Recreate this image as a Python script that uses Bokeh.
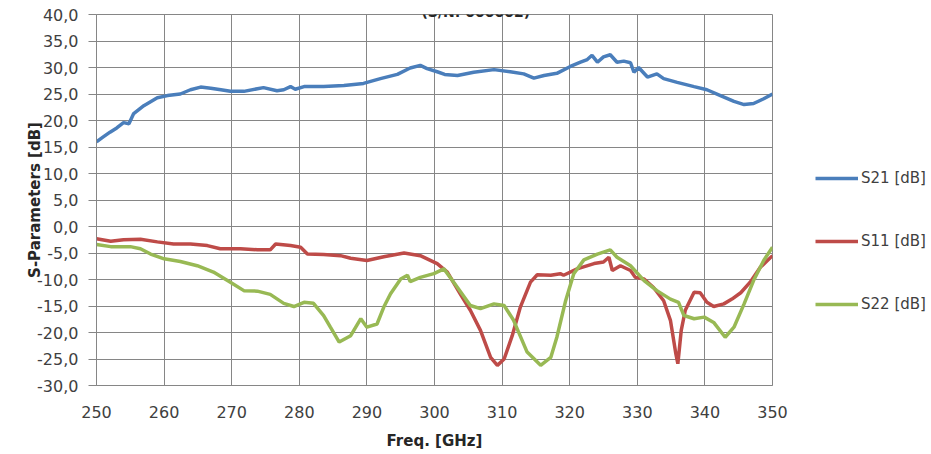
from bokeh.plotting import figure
from bokeh.layouts import row
from bokeh.models import (FixedTicker, CustomJSTickFormatter, Legend, LegendItem,
                          Label, Range1d)
from bokeh.embed import file_html
from bokeh.resources import INLINE

# ---------------- data ----------------
title_text = "(S/N: 000002)"
x_ticks = [250, 260, 270, 280, 290, 300, 310, 320, 330, 340, 350]
y_ticks = [-30, -25, -20, -15, -10, -5, 0, 5, 10, 15, 20, 25, 30, 35, 40]

f_s21 = [250.0, 251.0, 252.0, 253.0, 254.0, 254.8, 255.5, 257.0, 259.0, 260.5,
         262.4, 263.9, 265.4, 266.9, 268.4, 269.8, 271.8, 273.8, 274.7, 276.7,
         277.7, 278.7, 279.4, 280.7, 283.6, 286.6, 289.5, 292.0, 294.5, 296.4,
         297.9, 298.9, 300.4, 301.5, 303.4, 305.8, 308.8, 311.2, 313.2, 314.7,
         316.2, 318.1, 320.1, 321.6, 322.6, 323.3, 324.1, 325.0, 326.0, 327.0,
         328.0, 329.0, 329.5, 330.2, 331.5, 332.9, 333.9, 335.9, 338.4, 340.3,
         342.3, 344.3, 345.8, 347.2, 348.7, 350.0]
s21 = [16.0, 16.9, 17.8, 18.6, 19.6, 19.4, 21.3, 22.8, 24.3, 24.7,
       25.0, 25.8, 26.3, 26.1, 25.8, 25.5, 25.5, 26.0, 26.2, 25.6,
       25.8, 26.4, 25.9, 26.4, 26.4, 26.6, 27.0, 27.9, 28.7, 29.9,
       30.4, 29.8, 29.2, 28.7, 28.5, 29.1, 29.6, 29.2, 28.8, 28.0,
       28.5, 28.9, 30.2, 31.0, 31.5, 32.3, 31.0, 32.0, 32.4, 31.0,
       31.2, 30.9, 29.1, 30.0, 28.2, 28.8, 27.9, 27.2, 26.4, 25.8,
       24.7, 23.6, 23.0, 23.2, 24.1, 25.0]

f_s11 = [250.0, 252.1, 254.0, 256.5, 259.0, 261.4, 263.9, 266.4, 268.3, 271.3,
         273.8, 275.7, 276.5, 278.7, 280.2, 281.2, 283.6, 286.1, 287.6, 290.0,
         292.5, 295.5, 297.9, 300.4, 301.9, 303.8, 305.3, 306.8, 308.3, 309.3,
         310.3, 311.5, 312.7, 314.2, 315.2, 317.2, 318.6, 319.1, 321.1, 323.6,
         325.0, 325.8, 326.3, 327.5, 329.0, 329.7, 331.0, 332.4, 333.9, 334.9,
         335.7, 336.0, 336.5, 337.1, 338.4, 339.3, 340.3, 341.3, 342.8, 344.0,
         345.3, 346.7, 348.2, 350.0]
s11 = [-2.3, -2.8, -2.5, -2.4, -2.9, -3.3, -3.3, -3.6, -4.2, -4.2,
       -4.4, -4.4, -3.3, -3.6, -3.9, -5.2, -5.3, -5.5, -6.0, -6.4,
       -5.7, -5.0, -5.5, -7.0, -8.6, -12.7, -15.8, -19.6, -24.7, -26.2,
       -25.0, -20.6, -15.2, -10.5, -9.1, -9.2, -8.9, -9.2, -8.0, -7.0,
       -6.7, -5.8, -8.3, -7.4, -8.3, -9.6, -9.9, -11.5, -14.0, -17.7,
       -24.0, -25.9, -19.6, -15.8, -12.4, -12.5, -14.3, -15.1, -14.6, -13.7,
       -12.5, -10.5, -7.7, -5.5]

f_s22 = [250.0, 252.1, 255.0, 256.5, 258.0, 260.0, 262.4, 264.9, 267.3, 269.8,
         271.8, 273.8, 275.7, 277.7, 279.2, 280.7, 282.1, 283.6, 284.6, 285.9,
         287.6, 289.1, 290.0, 291.5, 292.5, 293.5, 295.0, 296.0, 296.4, 297.9,
         299.9, 301.4, 303.4, 305.3, 306.8, 308.8, 310.3, 311.7, 313.7, 315.7,
         317.2, 318.1, 319.4, 320.6, 322.1, 324.1, 326.0, 327.0, 329.0, 331.0,
         332.9, 334.9, 336.1, 336.9, 338.4, 339.9, 341.3, 343.0, 344.3, 345.8,
         347.2, 348.7, 350.0]
s22 = [-3.4, -3.8, -3.8, -4.2, -5.2, -6.1, -6.6, -7.4, -8.6, -10.5,
       -12.1, -12.2, -12.8, -14.5, -15.1, -14.3, -14.5, -16.8, -19.0, -21.8,
       -20.6, -17.4, -19.0, -18.4, -15.2, -12.7, -9.9, -9.2, -10.4, -9.6,
       -8.9, -8.0, -11.5, -14.9, -15.5, -14.6, -14.9, -17.7, -23.7, -26.2,
       -24.7, -20.9, -14.0, -8.9, -6.3, -5.2, -4.4, -5.8, -7.4, -10.2,
       -12.1, -13.7, -14.3, -16.8, -17.4, -17.1, -18.1, -20.9, -19.0, -14.6,
       -10.2, -6.4, -3.9]

series_names = ["S21 [dB]", "S11 [dB]", "S22 [dB]"]
series_colors = ["#4A7EBB", "#BE4B48", "#98B954"]
series_x = [f_s21, f_s11, f_s22]
series_y = [s21, s11, s22]

# ---------------- main figure ----------------
FONT = "DejaVu Sans"
GRID = "#868686"
LW = 3.5

p = figure(width=790, height=454, output_backend="svg", toolbar_location=None,
           x_range=Range1d(250, 350), y_range=Range1d(-30, 40),
           min_border_left=96, min_border_right=18, min_border_top=14,
           min_border_bottom=69, background_fill_color="white",
           border_fill_color="white", outline_line_color=GRID)

for xs, ys, c in zip(series_x, series_y, series_colors):
    p.line(xs, ys, line_color=c, line_width=LW)

p.xaxis.ticker = FixedTicker(ticks=x_ticks)
p.yaxis.ticker = FixedTicker(ticks=y_ticks)
p.yaxis.formatter = CustomJSTickFormatter(code="return tick.toFixed(1).replace('.', ',');")

for ax in (p.xaxis[0], p.yaxis[0]):
    ax.axis_line_color = GRID
    ax.major_tick_line_color = GRID
    ax.minor_tick_line_color = None
    ax.major_label_text_font = FONT
    ax.major_label_text_font_size = "16px"
    ax.major_label_text_color = "#404040"
    ax.axis_label_text_font = FONT
    ax.axis_label_text_font_size = "15px"
    ax.axis_label_text_font_style = "bold"
    ax.axis_label_text_color = "#262626"

p.xaxis.major_tick_out = 0
p.xaxis.major_tick_in = 0
p.xaxis.major_label_standoff = 20
p.xaxis.axis_label = "Freq. [GHz]"
p.xaxis.axis_label_standoff = 11

p.yaxis.major_tick_out = 8
p.yaxis.major_tick_in = 0
p.yaxis.major_label_standoff = 10
p.yaxis.axis_label = "S-Parameters [dB]"
p.yaxis.axis_label_standoff = -10

p.xgrid.grid_line_color = GRID
p.ygrid.grid_line_color = GRID
p.xgrid.grid_line_width = 1
p.ygrid.grid_line_width = 1

# title at the very top (its upper part is cut off in the reference)
title = Label(x=306.1, y=40.38, text=title_text,
              text_font=FONT, text_font_size="14px", text_font_style="bold",
              text_color="#262626", text_align="center", text_baseline="alphabetic")
p.add_layout(title)

# ---------------- legend panel on the right ----------------
# same series drawn in a side panel whose ranges keep them out of view;
# they only serve as the legend's glyph sources
pl = figure(width=141, height=454, output_backend="svg", toolbar_location=None,
            x_range=Range1d(0, 1), y_range=Range1d(0, 1),
            min_border_left=25, min_border_right=0, min_border_top=14,
            min_border_bottom=69, outline_line_color=None,
            background_fill_color="white", border_fill_color="white")
pl.axis.visible = False
pl.grid.visible = False
legend_renderers = [pl.line(xs, ys, line_color=c, line_width=LW)
                    for xs, ys, c in zip(series_x, series_y, series_colors)]

legend = Legend(items=[LegendItem(label=n, renderers=[r])
                       for n, r in zip(series_names, legend_renderers)],
                location=(0, 71), orientation="vertical",
                spacing=43, glyph_width=43, glyph_height=20, label_height=20,
                label_standoff=3, padding=0, margin=0,
                border_line_color=None, background_fill_alpha=0,
                label_text_font=FONT, label_text_font_size="15px",
                label_text_color="#404040")
pl.add_layout(legend, "center")

layout = row(p, pl, spacing=0)
open("out.html", "w").write(file_html(layout, INLINE))
